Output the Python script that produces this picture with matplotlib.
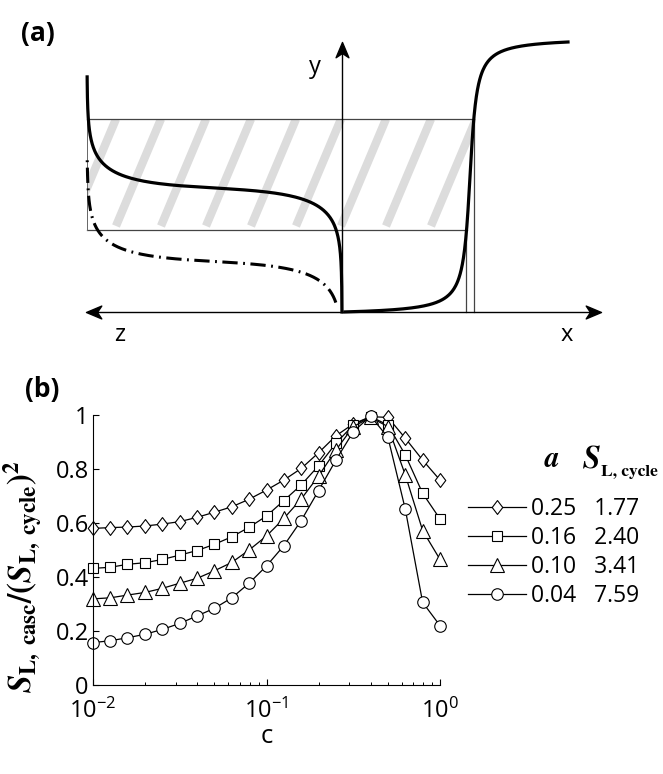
import numpy as np
import matplotlib
matplotlib.use('Agg')
import matplotlib.pyplot as plt
from matplotlib.lines import Line2D
from matplotlib.path import Path
from matplotlib.patches import Rectangle

plt.rcParams['font.family'] = ['Open Sans', 'DejaVu Sans']
plt.rcParams['mathtext.fontset'] = 'custom'
plt.rcParams['mathtext.rm'] = 'Open Sans'
plt.rcParams['mathtext.it'] = 'Open Sans:italic'
plt.rcParams['mathtext.bf'] = 'Open Sans:bold'

# ---- (b) data ----
c = [0.0100, 0.0126, 0.0158, 0.0200, 0.0251, 0.0316, 0.0398, 0.0501, 0.0631, 0.0794,
     0.1000, 0.1259, 0.1585, 0.1995, 0.2512, 0.3162, 0.3981, 0.5012, 0.6310, 0.7943, 1.0000]

s_025 = [0.580, 0.583, 0.585, 0.589, 0.596, 0.605, 0.621, 0.640, 0.660, 0.688,
         0.722, 0.759, 0.802, 0.860, 0.923, 0.967, 0.994, 0.991, 0.914, 0.833, 0.759]
s_016 = [0.432, 0.436, 0.447, 0.453, 0.465, 0.481, 0.498, 0.521, 0.549, 0.584,
         0.626, 0.683, 0.741, 0.812, 0.895, 0.963, 0.994, 0.963, 0.852, 0.710, 0.615]
s_010 = [0.319, 0.323, 0.333, 0.343, 0.358, 0.377, 0.395, 0.423, 0.454, 0.500,
         0.552, 0.617, 0.689, 0.774, 0.870, 0.957, 0.991, 0.957, 0.778, 0.572, 0.465]
s_004 = [0.157, 0.164, 0.175, 0.188, 0.206, 0.228, 0.256, 0.284, 0.323, 0.377,
         0.441, 0.516, 0.609, 0.720, 0.833, 0.938, 0.996, 0.917, 0.651, 0.306, 0.220]

a_vals = ['0.25', '0.16', '0.10', '0.04']
sl_cycle = ['1.77', '2.40', '3.41', '7.59']

W, H = 663, 774

# 縦長のひし形マーカー
diamond = Path([(0, 0.5), (0.38, 0), (0, -0.5), (-0.38, 0), (0, 0.5)],
               [Path.MOVETO, Path.LINETO, Path.LINETO, Path.LINETO, Path.CLOSEPOLY])
styles = [(diamond, 10.0), ('s', 7.4), ('^', 10.4), ('o', 8.3)]

# 矢印の先端（ステルス型）
head_r = Path([(0, 0), (-1, 0.42), (-0.72, 0), (-1, -0.42), (0, 0)],
              [Path.MOVETO, Path.LINETO, Path.LINETO, Path.LINETO, Path.CLOSEPOLY])
head_l = Path([(0, 0), (1, 0.42), (0.72, 0), (1, -0.42), (0, 0)],
              [Path.MOVETO, Path.LINETO, Path.LINETO, Path.LINETO, Path.CLOSEPOLY])
head_u = Path([(0, 0), (0.42, -1), (0, -0.72), (-0.42, -1), (0, 0)],
              [Path.MOVETO, Path.LINETO, Path.LINETO, Path.LINETO, Path.CLOSEPOLY])


def draw_schematic(fig):
    ax = fig.add_axes([0, 1 - 360 / H, 1, 360 / H])
    ax.set_xlim(-3.42, 3.21)
    ax.set_ylim(-0.48, 3.12)
    ax.axis('off')

    # 帯の範囲
    x0, x1 = -2.55, 1.32
    y0, y1 = 0.82, 1.93
    clip = Rectangle((x0, y0), x1 - x0, y1 - y0, transform=ax.transData)

    # 斜線（灰色）
    for k in range(9):
        xt = -2.26 + 0.45 * k
        ln, = ax.plot([xt - 0.45, xt], [0.86, 1.93], color='#dcdcdc', lw=6,
                      solid_capstyle='butt', zorder=1)
        ln.set_clip_path(clip)

    # 帯の枠線
    ax.plot([x0, x1], [y1, y1], color='#444444', lw=0.9, zorder=2)
    ax.plot([x0, 1.25], [y0, y0], color='#444444', lw=0.9, zorder=2)
    ax.plot([x0, x0], [y0, y1], color='#666666', lw=0.7, zorder=2)
    ax.plot([x1, x1], [0, y1], color='#444444', lw=0.9, zorder=2)
    ax.plot([1.24, 1.24], [0, y0], color='#444444', lw=0.9, zorder=2)

    # 軸
    ax.plot([-2.50, 2.53], [0, 0], color='k', lw=1.0, zorder=3)
    ax.plot([0, 0], [0, 2.64], color='k', lw=1.0, zorder=3)
    ax.plot(2.59, 0, marker=head_r, ms=22, color='k', zorder=4)
    ax.plot(-2.56, 0, marker=head_l, ms=22, color='k', zorder=4)
    ax.plot(0, 2.70, marker=head_u, ms=22, color='k', zorder=4)

    # 左側の曲線（z方向）
    t = np.linspace(-4.08, 3.74, 400)
    zx = -2.55 * (1 + np.tanh(t)) / 2
    zy = 1.24 - 0.303 * np.tanh(t) + 0.378 * t
    ax.plot(zx, zy, color='k', lw=2.3, zorder=5)

    t2 = np.linspace(-1.85, 3.55, 400)
    ax.plot(-2.55 * (1 + np.tanh(t2)) / 2,
            1.24 - 0.303 * np.tanh(t2) + 0.378 * t2 - 0.735,
            color='k', lw=2.2, linestyle=(0, (5, 1.8, 0.6, 1.8)), zorder=5)

    # 右側の曲線（x方向）
    xs = np.linspace(0.03, 2.26, 400)
    xc, w = 1.28, 0.05
    lo, hi = np.arctan((0 - xc) / w), np.arctan((2.26 - xc) / w)
    ys = 2.70 * (np.arctan((xs - xc) / w) - lo) / (hi - lo)
    ax.plot(xs, ys, color='k', lw=2.3, zorder=5)

    ax.text(-0.27, 2.45, 'y', fontsize=17, ha='center', va='center')
    ax.text(-2.22, -0.23, 'z', fontsize=17, ha='center', va='center')
    ax.text(2.25, -0.23, 'x', fontsize=17, ha='center', va='center')
    fig.text(38 / W, 1 - 33 / H, '(a)', fontsize=19, fontweight='bold',
             ha='center', va='center')


def draw_curves(fig):
    ax = fig.add_axes([93 / W, 1 - 685 / H, 347 / W, 270 / H])
    series = [s_025, s_016, s_010, s_004]
    handles = []
    for vals, (m, ms) in zip(series, styles):
        ax.plot(c, vals, color='k', lw=0.9, marker=m, ms=ms, mfc='white',
                mec='k', mew=0.8, clip_on=False)
        handles.append(Line2D([], [], color='k', lw=0.9, marker=m, ms=ms,
                              mfc='white', mec='k', mew=0.8))

    ax.set_xscale('log')
    ax.set_xlim(0.01, 1)
    ax.set_ylim(0, 1)
    ax.set_yticks([0, 0.2, 0.4, 0.6, 0.8, 1])
    ax.set_yticklabels(['0', '0.2', '0.4', '0.6', '0.8', '1'])
    for sp in ['top', 'right']:
        ax.spines[sp].set_visible(False)
    for sp in ['left', 'bottom']:
        ax.spines[sp].set_linewidth(0.8)
    ax.tick_params(which='major', direction='in', length=4, width=0.8, labelsize=17)
    ax.tick_params(which='minor', direction='in', length=2.2, width=0.7)
    ax.tick_params(axis='x', which='major', pad=10)
    ax.tick_params(axis='y', which='major', pad=3)
    ax.set_xlabel('c', fontsize=18.5, labelpad=0)

    fig.text(23 / W, 1 - 577 / H,
             r'$\mathbfit{S}_{\mathbf{L,\ casc}}\mathbf{/(}\mathbfit{S}_{\mathbf{L,\ cycle}}\mathbf{)}^{\mathbf{2}}$',
             rotation=90, ha='center', va='center', fontsize=23.5, math_fontfamily='stix')

    # 凡例
    labels = [a + '   ' + s for a, s in zip(a_vals, sl_cycle)]
    fig.legend(handles, labels, loc='upper left', bbox_to_anchor=(468 / W, 1 - 497 / H),
               frameon=False, fontsize=16.5, handlelength=2.55, handletextpad=0.2,
               labelspacing=0.22, borderpad=0, borderaxespad=0)
    fig.text(552 / W, 1 - 467 / H, r'$\mathbfit{a}$', fontsize=21,
             ha='center', va='baseline', math_fontfamily='stix')
    fig.text(582 / W, 1 - 467 / H, r'$\mathbfit{S}$', fontsize=23,
             ha='left', va='baseline', math_fontfamily='stix')
    fig.text(601 / W, 1 - 476 / H, 'L, cycle', fontsize=12.5, fontweight='bold',
             family='STIXGeneral', ha='left', va='baseline')
    fig.text(42 / W, 1 - 390 / H, '(b)', fontsize=19, fontweight='bold',
             ha='center', va='center')


def main():
    fig = plt.figure(figsize=(W / 100, H / 100), dpi=100)
    draw_schematic(fig)
    draw_curves(fig)
    fig.savefig('out.png', dpi=100)


if __name__ == "__main__":
    main()
